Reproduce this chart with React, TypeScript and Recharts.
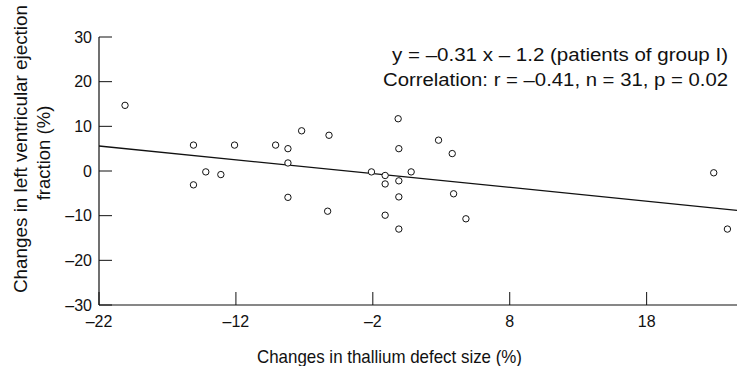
import { ScatterChart, Scatter, XAxis, YAxis, ReferenceLine } from "recharts"

// Changes in thallium defect size (%) vs changes in LV ejection fraction (%)
const defectChange = [
  -20.1, -15.1, -12.1, -9.1, -8.2, -7.2, -5.2, -0.15, -0.1, -14.2,
  -13.1, -15.1, -8.2, -8.2, -5.3, -2.1, -1.1, -1.1, -0.1, 0.8,
  -0.1, -1.1, 2.8, 3.8, 3.9, 22.9, 4.8, -0.1, 23.9,
]
const efChange = [
  14.7, 5.8, 5.8, 5.8, 5.0, 9.0, 8.0, 11.7, 5.0, -0.2,
  -0.8, -3.1, 1.8, -5.9, -9.0, -0.2, -1.0, -2.9, -2.2, -0.2,
  -5.8, -9.9, 6.9, 3.9, -5.1, -0.4, -10.7, -13.0, -13.0,
]

// regression line ends as drawn
const fitX = [-22, 24.6]
const fitY = [5.6, -8.8]

const xTicks = [-22, -12, -2, 8, 18]
const yTicks = [-30, -20, -10, 0, 10, 20, 30]

const points = defectChange.map((x, i) => ({ x, y: efChange[i] }))

const FONT = "'Liberation Sans', Arial, Helvetica, sans-serif"
const INK = "#111"

const fmt = (v: number) => (v < 0 ? `\u2013${Math.abs(v)}` : `${v}`)

function YTick({ x, y, payload }: any) {
  return (
    <g>
      <line x1={x} y1={y} x2={x + 13} y2={y} stroke={INK} />
      <text x={x - 7} y={y + 5.5} textAnchor="end" fontSize={16} fontFamily={FONT} fill={INK}>
        {fmt(payload.value)}
      </text>
    </g>
  )
}

function XTick({ x, y, payload }: any) {
  return (
    <g>
      <line x1={x} y1={y} x2={x} y2={y - 13} stroke={INK} />
      <text x={x} y={y + 22} textAnchor="middle" fontSize={16} fontFamily={FONT} fill={INK}>
        {fmt(payload.value)}
      </text>
    </g>
  )
}

function YTitle() {
  return (
    <g fontSize={18.5} fontFamily={FONT} fill={INK}>
      <text transform="translate(27,149) rotate(-90)" textAnchor="middle" textLength={288} lengthAdjust="spacingAndGlyphs">
        Changes in left ventricular ejection
      </text>
      <text transform="translate(50,153) rotate(-90)" textAnchor="middle">
        fraction (%)
      </text>
    </g>
  )
}

function XTitle({ viewBox }: any) {
  return (
    <text x={257} y={viewBox.y + 58} fontSize={18.5} fontFamily={FONT} fill={INK}
      textLength={265} lengthAdjust="spacingAndGlyphs">
      Changes in thallium defect size (%)
    </text>
  )
}

const Dot = (p: any) => <circle cx={p.cx} cy={p.cy} r={3.2} fill="#fff" stroke={INK} strokeWidth={1} />

export default function App() {
  return (
    <div style={{ position: "absolute", left: 0, top: 0, width: 737, height: 366, background: "#fff" }}>
      <ScatterChart width={737} height={366} margin={{ top: 37, right: 0, bottom: 0, left: 0 }}>
        <XAxis
          type="number"
          dataKey="x"
          domain={[-22, 24.6]}
          ticks={xTicks}
          allowDataOverflow
          height={61}
          tickSize={0}
          tickMargin={0}
          tick={<XTick />}
          axisLine={{ stroke: INK, strokeWidth: 1.2 }}
          label={<XTitle />}
        />
        <YAxis
          type="number"
          dataKey="y"
          domain={[-30, 30]}
          ticks={yTicks}
          allowDataOverflow
          width={99}
          tickSize={0}
          tickMargin={0}
          tick={<YTick />}
          axisLine={{ stroke: INK, strokeWidth: 1.2 }}
          label={<YTitle />}
        />
        <ReferenceLine
          segment={[{ x: fitX[0], y: fitY[0] }, { x: fitX[1], y: fitY[1] }]}
          stroke={INK}
          strokeWidth={1.3}
        />
        <Scatter data={points} shape={Dot} isAnimationActive={false} />
      </ScatterChart>
      <svg width={737} height={100} style={{ position: "absolute", left: 0, top: 0 }}>
        <g fontFamily={FONT} fontSize={17.5} fill={INK} textAnchor="end">
          <text x={728} y={61} textLength={336} lengthAdjust="spacingAndGlyphs">
            y = {"\u2013"}0.31 x {"\u2013"} 1.2 (patients of group I)
          </text>
          <text x={728} y={85.5} textLength={345} lengthAdjust="spacingAndGlyphs">
            Correlation: r = {"\u2013"}0.41, n = 31, p = 0.02
          </text>
        </g>
      </svg>
    </div>
  )
}
